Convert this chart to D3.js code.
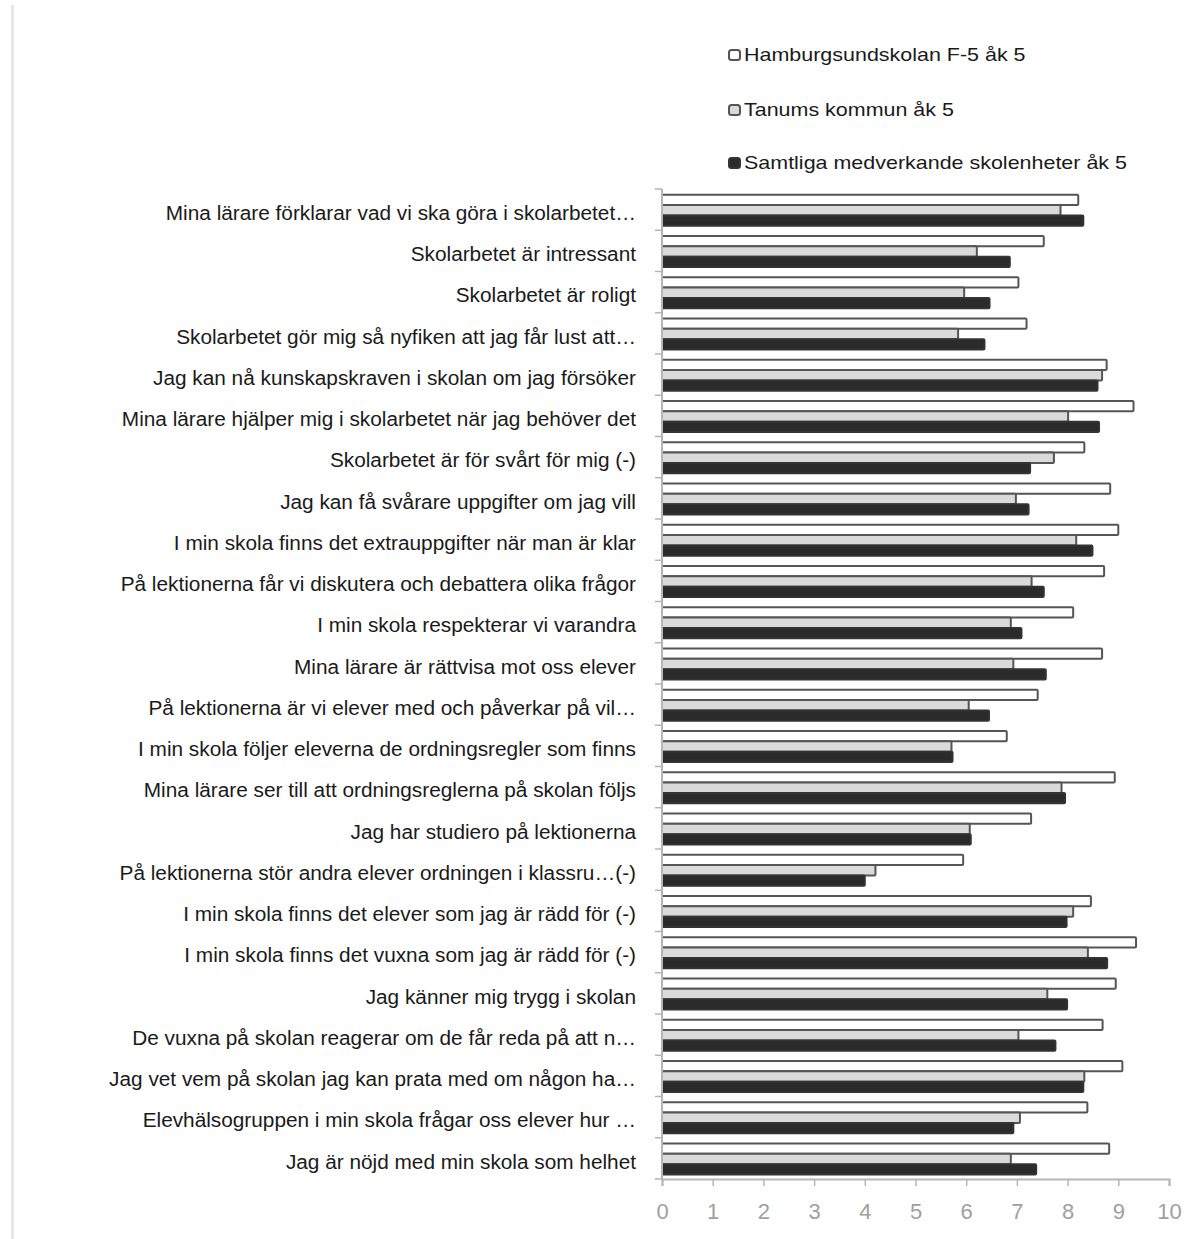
<!DOCTYPE html>
<html>
<head>
<meta charset="utf-8">
<script src="https://cdn.jsdelivr.net/npm/d3@7/dist/d3.min.js"></script>
<style>
  html, body { margin: 0; padding: 0; background: #fff; }
  svg { display: block; }
  text { font-family: "Liberation Sans", Arial, sans-serif; }
</style>
</head>
<body>
<svg id="chart" width="1187" height="1239"></svg>
<script>
const categories = [
  "Mina lärare förklarar vad vi ska göra i skolarbetet…",
  "Skolarbetet är intressant",
  "Skolarbetet är roligt",
  "Skolarbetet gör mig så nyfiken att jag får lust att…",
  "Jag kan nå kunskapskraven i skolan om jag försöker",
  "Mina lärare hjälper mig i skolarbetet när jag behöver det",
  "Skolarbetet är för svårt för mig (-)",
  "Jag kan få svårare uppgifter om jag vill",
  "I min skola finns det extrauppgifter när man är klar",
  "På lektionerna får vi diskutera och debattera olika frågor",
  "I min skola respekterar vi varandra",
  "Mina lärare är rättvisa mot oss elever",
  "På lektionerna är vi elever med och påverkar på vil…",
  "I min skola följer eleverna de ordningsregler som finns",
  "Mina lärare ser till att ordningsreglerna på skolan följs",
  "Jag har studiero på lektionerna",
  "På lektionerna stör andra elever ordningen i klassru…(-)",
  "I min skola finns det elever som jag är rädd för (-)",
  "I min skola finns det vuxna som jag är rädd för (-)",
  "Jag känner mig trygg i skolan",
  "De vuxna på skolan reagerar om de får reda på att n…",
  "Jag vet vem på skolan jag kan prata med om någon ha…",
  "Elevhälsogruppen i min skola frågar oss elever hur …",
  "Jag är nöjd med min skola som helhet"
];

const seriesNames = [
  "Hamburgsundskolan F-5 åk 5",
  "Tanums kommun åk 5",
  "Samtliga medverkande skolenheter åk 5"
];

const hamburgsund = [8.21, 7.53, 7.03, 7.19, 8.77, 9.30, 8.33, 8.84, 9.00, 8.72, 8.11, 8.68,
                     7.41, 6.80, 8.93, 7.28, 5.94, 8.46, 9.35, 8.95, 8.69, 9.08, 8.39, 8.82];
const tanum       = [7.86, 6.21, 5.96, 5.84, 8.68, 8.01, 7.73, 6.98, 8.17, 7.29, 6.88, 6.93,
                     6.05, 5.71, 7.88, 6.07, 4.21, 8.11, 8.40, 7.60, 7.03, 8.33, 7.06, 6.88];
const samtliga    = [8.31, 6.86, 6.46, 6.36, 8.59, 8.62, 7.26, 7.23, 8.49, 7.53, 7.09, 7.57,
                     6.45, 5.73, 7.95, 6.09, 4.00, 7.98, 8.78, 7.99, 7.76, 8.31, 6.93, 7.38];

const xTicks = [0, 1, 2, 3, 4, 5, 6, 7, 8, 9, 10];

const seriesValues = [hamburgsund, tanum, samtliga];
const fills = ["#ffffff", "#dadada", "#2b2b2b"];
const strokes = ["#555555", "#555555", "#333333"];

const svg = d3.select("#chart");

// left border line of the page image
svg.append("rect").attr("x", 11).attr("y", 5).attr("width", 3).attr("height", 1234).attr("fill", "#e6e6e6");

const plotLeft = 662, plotRight = 1169, plotTop = 189, plotBottom = 1179;

const x = d3.scaleLinear().domain([0, 10]).range([plotLeft, plotRight]);
const y = d3.scaleBand().domain(categories).range([plotTop, plotBottom]).paddingInner(0).paddingOuter(0);
const groupFrac = 0.75;
const inner = d3.scaleBand().domain(d3.range(3)).range([0, y.bandwidth() * groupFrac]);
const groupOffset = (y.bandwidth() - y.bandwidth() * groupFrac) / 2 + 0.6;

// bars
const groups = svg.append("g").selectAll("g")
  .data(categories)
  .join("g")
  .attr("transform", c => `translate(0,${y(c) + groupOffset})`);

groups.selectAll("rect")
  .data((c, i) => seriesValues.map((s, k) => ({ k, v: s[i] })))
  .join("rect")
  .attr("x", x(0))
  .attr("y", d => inner(d.k))
  .attr("width", d => x(d.v) - x(0))
  .attr("height", inner.bandwidth())
  .attr("fill", d => fills[d.k])
  .attr("stroke", d => strokes[d.k])
  .attr("stroke-width", 2)
  .attr("rx", 1);

// y axis line and ticks
const yAxisG = svg.append("g");
yAxisG.append("line")
  .attr("x1", plotLeft).attr("x2", plotLeft).attr("y1", plotTop).attr("y2", plotBottom)
  .attr("stroke", "#b5b5b5").attr("stroke-width", 2);
const bounds = categories.map(c => y(c)).concat([plotBottom]);
yAxisG.selectAll("line.tk").data(bounds).join("line")
  .attr("class", "tk")
  .attr("x1", plotLeft - 7).attr("x2", plotLeft)
  .attr("y1", d => d).attr("y2", d => d)
  .attr("stroke", "#b5b5b5").attr("stroke-width", 1.5);

// category labels (slightly widened to match the stretched original)
const labelScale = 1.04;
svg.append("g").selectAll("text")
  .data(categories)
  .join("text")
  .attr("transform", c => `translate(636,${y(c) + y.bandwidth() / 2 + 5}) scale(${labelScale},1)`)
  .attr("text-anchor", "end")
  .attr("dominant-baseline", "middle")
  .attr("font-size", 20)
  .attr("fill", "#1a1a1a")
  .text(c => c);

// x axis
const xAxis = d3.axisBottom(x).tickValues(xTicks).tickSize(7).tickPadding(17).tickFormat(d3.format("d"));
const xg = svg.append("g").attr("transform", `translate(0,${plotBottom})`).call(xAxis);
xg.select(".domain").attr("stroke", "#b5b5b5").attr("stroke-width", 2);
xg.selectAll(".tick line").attr("stroke", "#b5b5b5").attr("stroke-width", 1.5);
xg.selectAll(".tick text")
  .attr("font-size", 22)
  .attr("fill", "#a0a0a0")
  .attr("font-family", "'Liberation Sans', Arial, sans-serif");

// legend
const legendY = [55, 110, 163];
const legendScale = 1.13;
const legend = svg.append("g").selectAll("g")
  .data(seriesNames)
  .join("g")
  .attr("transform", (d, i) => `translate(729,${legendY[i]})`);
legend.append("rect")
  .attr("x", 0).attr("y", -5).attr("width", 11).attr("height", 10).attr("rx", 2.5)
  .attr("fill", (d, i) => fills[i])
  .attr("stroke", (d, i) => strokes[i]).attr("stroke-width", 2);
legend.append("text")
  .attr("transform", `translate(15,1) scale(${legendScale},1)`)
  .attr("dominant-baseline", "middle")
  .attr("font-size", 19)
  .attr("fill", "#1a1a1a")
  .text(d => d);
</script>
</body>
</html>
